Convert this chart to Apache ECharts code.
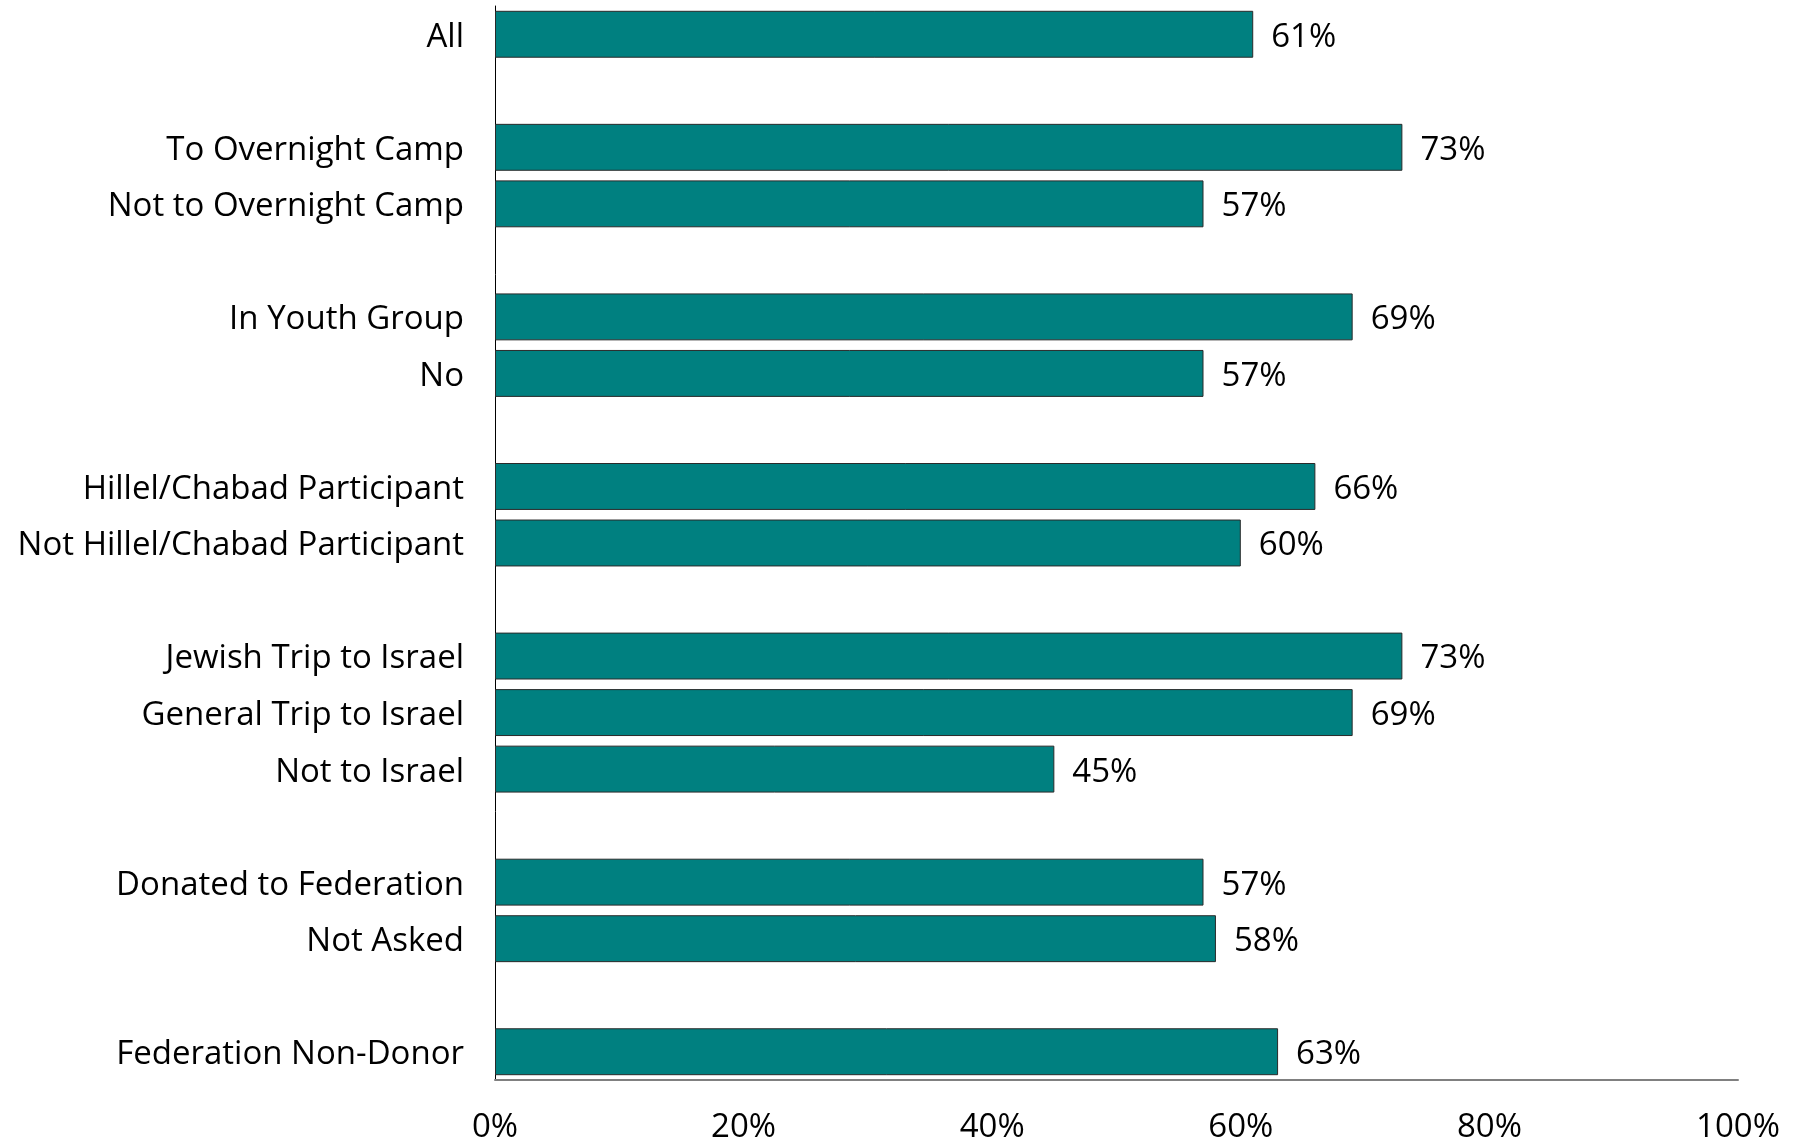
<!DOCTYPE html>
<html>
<head>
<meta charset="utf-8">
<script src="https://cdn.jsdelivr.net/npm/echarts@6/dist/echarts.min.js"></script>
<style>
  html, body { margin: 0; padding: 0; background: #ffffff; }
  #chart { width: 1796px; height: 1144px; }
</style>
</head>
<body>
<div id="chart"></div>
<script>
// Categories top to bottom; blank entries are spacer rows
var categories = [
  'All', ' ',
  'To Overnight Camp', 'Not to Overnight Camp', '  ',
  'In Youth Group', 'No', '   ',
  'Hillel/Chabad Participant', 'Not Hillel/Chabad Participant', '    ',
  'Jewish Trip to Israel', 'General Trip to Israel', 'Not to Israel', '     ',
  'Donated to Federation', 'Not Asked', '      ',
  'Federation Non-Donor'
];
var values = [
  61, null,
  73, 57, null,
  69, 57, null,
  66, 60, null,
  73, 69, 45, null,
  57, 58, null,
  63
];
var xTicks = [0, 20, 40, 60, 80, 100];

var FONT = '"Open Sans", sans-serif';
var shiftRich = { t: { fontFamily: FONT, fontSize: 33, color: '#000000', padding: [6, 0, 0, 0] } };
var chart = echarts.init(document.getElementById('chart'), null, { renderer: 'canvas' });
chart.setOption({
  backgroundColor: '#ffffff',
  animation: false,
  grid: { left: 495, right: 58, top: 6, bottom: 63, containLabel: false },
  xAxis: {
    type: 'value',
    min: xTicks[0],
    max: xTicks[xTicks.length - 1],
    interval: xTicks[1] - xTicks[0],
    axisLine: { show: true, lineStyle: { color: '#808080', width: 2 } },
    axisTick: { show: false },
    splitLine: { show: false },
    axisLabel: {
      formatter: '{value}%',
      color: '#000000',
      fontFamily: FONT,
      fontSize: 33,
      margin: 31
    }
  },
  yAxis: {
    type: 'category',
    inverse: true,
    data: categories,
    axisLine: { show: true, lineStyle: { color: '#000000', width: 1 } },
    axisTick: { show: false },
    splitLine: { show: false },
    axisLabel: {
      color: '#000000',
      fontFamily: FONT,
      fontSize: 33,
      margin: 31,
      interval: 0,
      formatter: function (v) { return '{t|' + v + '}'; },
      rich: shiftRich
    }
  },
  series: [{
    type: 'bar',
    data: values,
    barCategoryGap: '17%',
    itemStyle: { color: '#008080', borderColor: '#2a2a2a', borderWidth: 1 },
    label: {
      show: true,
      position: 'right',
      distance: 18,
      formatter: '{t|{c}%}',
      color: '#000000',
      fontFamily: FONT,
      fontSize: 33,
      rich: shiftRich
    }
  }]
});
</script>
</body>
</html>
